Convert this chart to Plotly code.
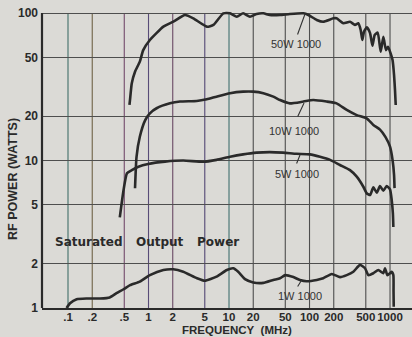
import plotly.graph_objects as go
import math

# ---------------- data (MHz, watts) ----------------
freq_50w = [0.58, 0.59, 0.62, 0.68, 0.78, 0.86, 1.04, 1.53, 2.03, 2.84, 3.6, 5.3, 6.4, 8.5, 10.3,
            12.5, 15, 18.2, 22, 26.7, 32, 43, 57, 84, 97, 123, 148, 198, 217, 263, 318, 367, 404,
            432, 453, 475, 516, 565, 605, 645, 703, 766, 826, 891, 944, 1015, 1075, 1122, 1153, 1177]
p_50w = [23.8, 26, 33.4, 40, 46.8, 56, 65.6, 80.8, 87.3, 96.9, 92, 80.8, 83, 99.5, 99.5,
         94.4, 99.5, 94.4, 98.5, 99.5, 96.9, 96.9, 98.5, 99.5, 96.9, 89.7, 87.3, 92, 92, 85.3, 87.3, 83, 85.3,
         76.7, 65.6, 74.7, 80, 73, 60, 71, 73.6, 54.6, 69, 56, 59, 53.5, 48, 38, 30, 23.8]

freq_10w = [0.68, 0.71, 0.78, 0.91, 1.04, 1.26, 1.85, 2.46, 3.97, 5.3, 7.0, 10.3, 15, 20, 26.7, 35.5,
            43, 57, 84, 111, 163, 217, 290, 386, 513, 621, 751, 880, 1000, 1075, 1122, 1138]
p_10w = [6.48, 10.6, 14.5, 18.8, 20.9, 22.6, 24.4, 25.1, 25.3, 26, 27.1, 28.6, 29.3, 29.3, 28.6, 27.1,
         25.7, 24.4, 25.1, 25.7, 25.1, 24.4, 22, 20.3, 19.3, 17.4, 16.2, 14.4, 12.4, 10.1, 8.0, 6.5]

freq_5w = [0.44, 0.49, 0.54, 0.62, 0.75, 0.99, 1.6, 2.7, 4.8, 7.0, 10.3, 15, 22, 32, 47, 69, 101, 135,
           180, 239, 318, 386, 466, 513, 565, 621, 684, 751, 826, 910, 1000, 1049, 1085, 1100]
p_5w = [4.12, 6.31, 8.19, 8.6, 9.08, 9.47, 9.82, 9.99, 9.8, 10.1, 10.6, 11.0, 11.3, 11.4, 11.3, 11.1, 11.0, 10.6,
        10.1, 9.32, 8.6, 7.77, 6.64, 6.0, 5.83, 6.58, 6.05, 6.71, 6.24, 6.71, 6.38, 5.4, 4.4, 3.54]

freq_1w = [0.096, 0.106, 0.128, 0.17, 0.25, 0.33, 0.40, 0.49, 0.59, 0.78, 1.04, 1.53, 2.03, 2.7, 4.0, 5.0,
           7.0, 9.4, 11.3, 13, 15.8, 20, 26.7, 35.5, 43, 50, 63, 76, 92, 123, 148, 189, 239, 290, 350,
           424, 489, 538, 621, 716, 826, 866, 927, 1000, 1049, 1100, 1106, 1112]
p_1w = [1.0, 1.076, 1.146, 1.16, 1.16, 1.18, 1.26, 1.34, 1.43, 1.51, 1.67, 1.81, 1.83, 1.76, 1.59, 1.53,
        1.63, 1.81, 1.86, 1.76, 1.57, 1.49, 1.48, 1.55, 1.59, 1.67, 1.62, 1.55, 1.52, 1.55, 1.59, 1.70, 1.62, 1.67, 1.76,
        1.96, 1.86, 1.67, 1.72, 1.81, 1.72, 1.86, 1.67, 1.72, 1.76, 1.67, 1.3, 1.02]

x_tickvals = [0.1, 0.2, 0.5, 1, 2, 5, 10, 20, 50, 100, 200, 500, 1000]
x_ticktext = [".1", ".2", ".5", "1", "2", "5", "10", "20", "50", "100", "200", "500", "1000"]
y_tickvals = [1, 2, 5, 10, 20, 50, 100]
y_ticktext = ["1", "2", "5", "10", "20", "50", "100"]

series = [("50W 1000", freq_50w, p_50w), ("10W 1000", freq_10w, p_10w),
          ("5W 1000", freq_5w, p_5w), ("1W 1000", freq_1w, p_1w)]

# colour of each vertical rule (the print shows tinted rules at the low end)
vrule_cols = ["#416f6a", "#6f6448", "#734a6b", "#584c78", "#6b4a66", "#544875", "#41706f",
              "#4e4e4e", "#4e4e4e", "#4e4e4e", "#4e4e4e", "#4e4e4e", "#4e4e4e"]

# ---------------- figure ----------------
BG = "#dbdad6"
INK = "#2a2a2a"
GRID = "#4e4e4e"
BOLD = "Liberation Sans, Arial, sans-serif"
TOP_PAD = 8.0 / 147.5   # extra room above the 100 W rule (in decades)

fig = go.Figure()
for name, fx, py in series:
    fig.add_trace(go.Scatter(x=fx, y=py, mode="lines", name=name,
                             line=dict(color=INK, width=2.6, shape="spline", smoothing=0.5),
                             hoverinfo="skip"))

L = math.log10
fig.update_layout(
    width=412, height=337,
    margin=dict(l=42, r=0, t=5, b=29),
    paper_bgcolor=BG, plot_bgcolor=BG,
    showlegend=False,
    font=dict(family=BOLD, color=INK),
    xaxis=dict(type="log", range=[-1.323, 3.273], tickvals=x_tickvals, ticktext=x_ticktext,
               showgrid=False, zeroline=False,
               showline=True, linecolor=INK, linewidth=2, ticks="", tickangle=0, automargin=False,
               ticklabelstandoff=-3,
               tickfont=dict(family=BOLD, size=11.5, color=INK, weight="bold")),
    yaxis=dict(type="log", range=[0, 2 + TOP_PAD], tickvals=y_tickvals, ticktext=y_ticktext,
               showgrid=True, gridcolor=GRID, gridwidth=1, zeroline=False,
               showline=False, ticks="", automargin=False,
               ticklabelstandoff=3,
               tickfont=dict(family=BOLD, size=12, color=INK, weight="bold")),
)

shapes = []
top_frac = 2.0 / (2.0 + TOP_PAD)
for v, c in zip(x_tickvals, vrule_cols):
    shapes.append(dict(type="line", xref="x", yref="paper", x0=v, x1=v, y0=0, y1=top_frac,
                       line=dict(color=c, width=1.1), layer="below"))
# left axis rule from 1 W to 100 W
shapes.append(dict(type="line", xref="paper", yref="paper", x0=0, x1=0, y0=0, y1=top_frac,
                   line=dict(color=INK, width=2.2), layer="above"))
fig.update_layout(shapes=shapes)

annos = []
# axis titles
annos.append(dict(xref="paper", yref="paper", x=-0.0784, y=0.426, xanchor="center", yanchor="middle",
                  text="RF POWER (WATTS)", textangle=-90, showarrow=False,
                  font=dict(family=BOLD, size=12.5, color=INK, weight="bold")))
annos.append(dict(xref="paper", yref="paper", x=0.527, y=-0.0723, xanchor="center", yanchor="middle",
                  text="FREQUENCY\u00a0\u00a0(MHz)",
                  showarrow=False, font=dict(family=BOLD, size=11.5, color=INK, weight="bold")))
# Saturated Output Power
for word, fx in [("Saturated", 0.182), ("Output", 1.39), ("Power", 7.2)]:
    annos.append(dict(x=L(fx), y=L(2.8), text=word, showarrow=False,
                      font=dict(family="DejaVu Sans, sans-serif", size=12, color=INK, weight="bold")))
# curve labels
label_pos = [("50W 1000", 68, 61.7), ("10W 1000", 64, 15.8), ("5W 1000", 70, 8.09), ("1W 1000", 76, 1.205)]
for txt, fx, py in label_pos:
    annos.append(dict(x=L(fx), y=L(py), text=txt, showarrow=False,
                      font=dict(family=BOLD, size=11, color="#333333")))
# leader lines (arrow from curve point back to label)
leaders = [(87.9, 98.4, -8, 22), (85.5, 24.5, -7, 15), (76.2, 10.9, -4, 10), (80.0, 1.55, -5, 8)]
for fx, py, ax, ay in leaders:
    annos.append(dict(x=L(fx), y=L(py), text="", showarrow=True, arrowhead=0, arrowwidth=1.1,
                      arrowcolor="#333333", ax=ax, ay=ay, standoff=0))
fig.update_layout(annotations=annos)

fig.write_html("out.html", config={"displayModeBar": False},
               post_script="document.body.style.margin='0px';document.body.style.overflow='hidden';")
